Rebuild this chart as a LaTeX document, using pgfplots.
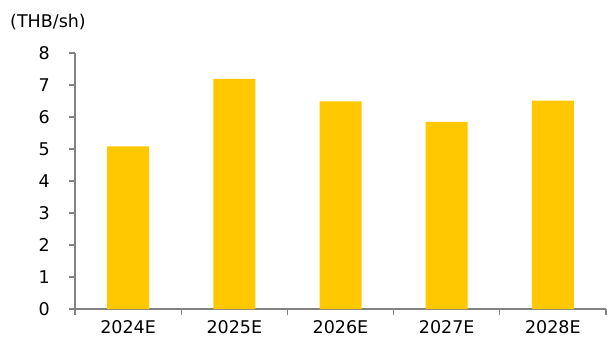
\documentclass[border=0pt]{standalone}
\usepackage{pgfplots}
\pgfplotsset{compat=1.18}
\usepackage{fontspec}
\setmainfont{DejaVu Sans}
\definecolor{barc}{RGB}{255,200,0}
\definecolor{axc}{RGB}{130,130,130}
\newcommand{\tf}{\fontsize{17.5}{20}\selectfont}
\begin{document}
\begin{tikzpicture}
\begin{axis}[
  name=ax, at={(0,0)}, anchor=south west,
  scale only axis, width=531pt, height=256pt,
  xmin=-0.5, xmax=4.5, ymin=0, ymax=8,
  axis lines=left, axis line style={-, axc, line width=1.3pt},
  ytick={0,1,...,8},
  xtick={0,1,2,3,4},
  xticklabels={2024E,2025E,2026E,2027E,2028E},
  major x tick style={draw=none},
  minor xtick={-0.5,0.5,1.5,2.5,3.5,4.5},
  minor tick length=6pt,
  minor x tick style={axc, line width=1.3pt},
  y tick style={axc, line width=1.3pt},
  major tick length=6pt,
  tick align=outside,
  /pgf/number format/assume math mode=true,
  ticklabel style={font=\tf, text=black},
  yticklabel style={anchor=east, inner sep=0pt, xshift=-19pt},
  xticklabel style={anchor=north, inner sep=0pt, yshift=-5pt},
  clip=false,
]
\addplot[ybar, bar width=42pt, fill=barc, draw=none] coordinates {
  (0,5.08) (1,7.19) (2,6.49) (3,5.85) (4,6.51)
};
\end{axis}
\node[anchor=base west, inner sep=0pt, font=\tf] at (-65pt,281.5pt) {(THB/sh)};
\pgfresetboundingbox
\path (-75pt,-28pt) rectangle (532pt,309pt);
\end{tikzpicture}
\end{document}
